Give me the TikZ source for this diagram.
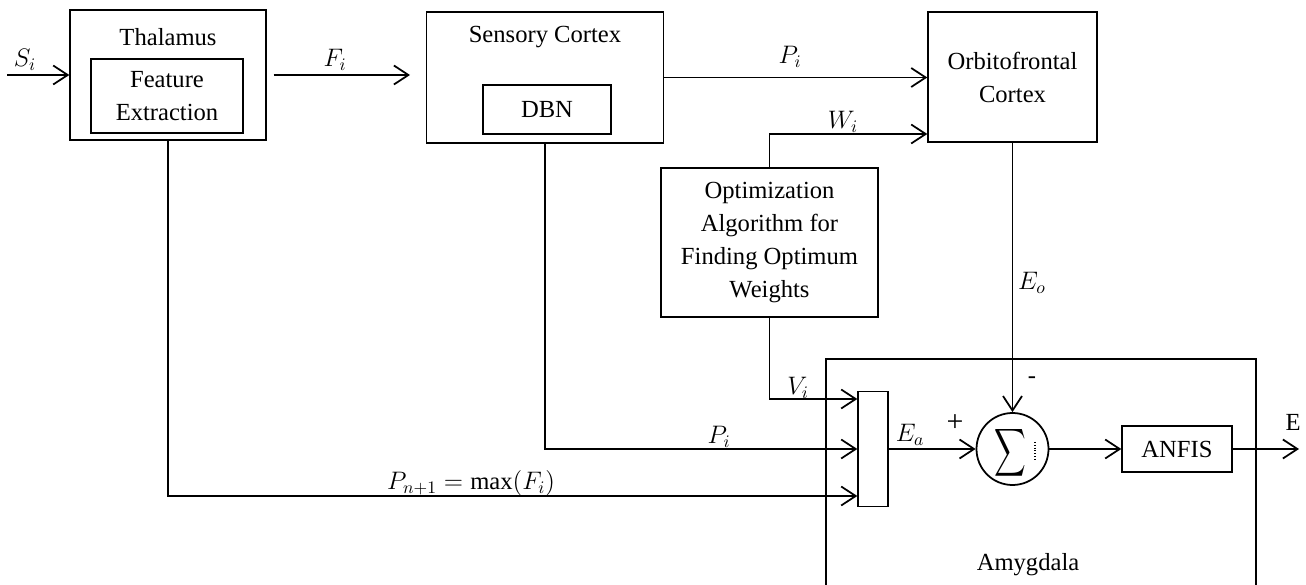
\documentclass[tikz,border=0pt]{standalone}
\usepackage{fontspec}
\setmainfont{Liberation Serif}
\usepackage{graphicx}
\usetikzlibrary{arrows.meta, positioning, calc}

\begin{document}
\begin{tikzpicture}[
        >={Straight Barb[length=2.9mm, width=3.8mm]},
        every node/.style={font=\fontsize{14}{18.8}\selectfont},
        block/.style={draw, line width=0.8pt, align=center, inner sep=0pt},
        flow/.style={->, line width=1pt}
    ]
        \useasboundingbox (0,0) rectangle (26.12,-11.7);

        % Thalamus
        \node[block, minimum width=3.92cm, minimum height=2.6cm] (thal) at (3.36,-1.5) {};
        \node (thaltxt) at (3.36,-0.74) {Thalamus};
        \node[block, minimum width=3.04cm, minimum height=1.48cm] (feat) at (3.34,-1.92) {Feature\\Extraction};

        % Sensory cortex
        \node[block, minimum width=4.74cm, minimum height=2.62cm] (sens) at (10.9,-1.55) {};
        \node (senstxt) at (10.9,-0.74) {Sensory Cortex};
        \node[block, minimum width=2.56cm, minimum height=0.98cm] (dbn) at (10.94,-2.19) {DBN};

        % Orbitofrontal cortex
        \node[block, minimum width=3.38cm, minimum height=2.6cm] (ofc) at (20.25,-1.54) {Orbitofrontal\\Cortex};

        % Optimization
        \node[block, minimum width=4.34cm, minimum height=2.98cm] (opt) at (15.39,-4.85) {Optimization\\Algorithm for\\Finding Optimum\\Weights};

        % Amygdala
        \node[block, minimum width=8.6cm, minimum height=4.72cm] (amyg) at (20.82,-9.54) {};
        \node (amygtxt) at (20.56,-11.3) {Amygdala};
        \node[block, minimum width=0.6cm, minimum height=2.3cm] (comb) at (17.46,-8.98) {};
        \node[draw, circle, line width=1pt, minimum size=1.44cm, inner sep=0pt] (sum) at (20.25,-8.98) {};
        \node (sigma) at (20.2,-9.05) {\scalebox{1.25}[1.9]{$\displaystyle\sum$}};
        \draw[densely dotted, line width=0.6pt] ([xshift=0.45cm, yshift=0.14cm]sum.center) -- ([xshift=0.45cm, yshift=-0.22cm]sum.center);
        \node[block, minimum width=2.2cm, minimum height=0.92cm] (anfis) at (23.54,-8.98) {ANFIS};

        % Free ends
        \coordinate (sin) at (0.14,-1.5);
        \coordinate (fout) at (8.2,-1.5);
        \coordinate (eout) at (25.98,-8.98);

        % Arrows
        \draw[flow] (sin) -- (thal.west);
        \draw[flow, shorten <=0.14cm] (thal.east) -- (fout);
        \draw[flow] (sens.east) -- (sens.east -| ofc.west);
        \draw[flow] (opt.north) |- ([yshift=-1.14cm]ofc.west);
        \draw[flow] (ofc.south) -- (sum.north);
        \draw[flow] (opt.south) |- ([yshift=1cm]comb.west);
        \draw[flow] (sens.south) |- (comb.west);
        \draw[flow] (thal.south) |- ([yshift=-0.94cm]comb.west);
        \draw[flow] (comb.east) -- (sum.west);
        \draw[flow] (sum.east) -- (anfis.west);
        \draw[flow] (anfis.east) -- (eout);

        % Labels
        \node (lsi) at (0.5,-1.2) {$S_i$};
        \node (lfi) at (6.7,-1.2) {$F_i$};
        \node (lpi) at (15.8,-1.14) {$P_i$};
        \node (lwi) at (16.86,-2.44) {$W_i$};
        \node (leo) at (20.64,-5.66) {$E_o$};
        \node (lvi) at (15.96,-7.76) {$V_i$};
        \node (lpib) at (14.38,-8.74) {$P_i$};
        \node (lpn) at (9.42,-9.66) {$P_{n+1} = \max(F_i)$};
        \node (lea) at (18.2,-8.7) {$E_a$};
        \node[font=\fontsize{17}{20}\selectfont] (lplus) at (19.1,-8.46) {+};
        \node (lminus) at (20.64,-7.6) {-};
        \node (le) at (25.86,-8.44) {E};
    \end{tikzpicture}
\end{document}
